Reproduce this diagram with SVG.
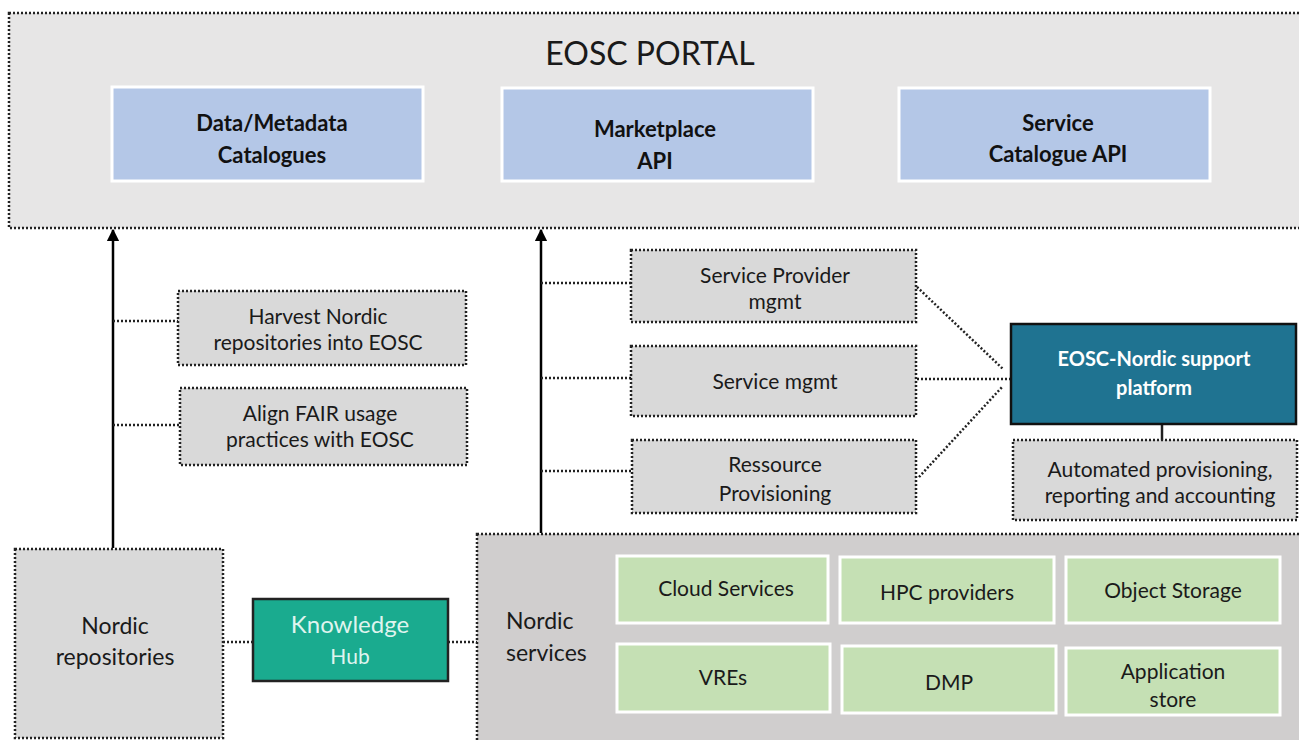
<svg xmlns="http://www.w3.org/2000/svg" width="1299" height="740" viewBox="0 0 1299 740">
<defs>
<marker id="arr" viewBox="0 0 10 10" refX="9" refY="5" markerWidth="5" markerHeight="5" orient="auto-start-reverse"><path d="M0,0 L10,5 L0,10 z" fill="#000"/></marker>
<style>
text{font-family:Lato,"Liberation Sans",sans-serif;fill:#1a1a1a;text-anchor:middle}
.dot{stroke:#222;stroke-width:2.5;stroke-dasharray:2 2;}
.gray{fill:#d9d9d9}
.blue{fill:#b4c7e7;stroke:#fff;stroke-width:3}
.green{fill:#c5e0b4;stroke:#fff;stroke-width:3}
.bt{font-weight:bold;font-size:22px;fill:#111}
.t{font-size:21px}
.big{font-size:23px}
.con{fill:none;stroke:#222;stroke-width:2.5;stroke-dasharray:2 2}
</style>
</defs>
<rect width="1299" height="740" fill="#fff"/>
<g id="eosc-portal">
<rect x="9" y="13" width="1300" height="215" fill="#e7e6e6" class="dot"/>
<text x="650" y="65" style="font-size:32px">EOSC PORTAL</text>
</g>
<g id="data-metadata"><rect x="112" y="87" width="311" height="94" class="blue"/><text class="bt" x="272" y="131">Data/Metadata</text><text class="bt" x="272" y="163">Catalogues</text></g>
<g id="marketplace"><rect x="502" y="88" width="311" height="93" class="blue"/><text class="bt" x="655" y="137">Marketplace</text><text class="bt" x="655" y="169">API</text></g>
<g id="service-catalogue"><rect x="899" y="88" width="311" height="93" class="blue"/><text class="bt" x="1058" y="131">Service</text><text class="bt" x="1058" y="162">Catalogue API</text></g>

<g id="connectors">
<line x1="113" y1="548" x2="113" y2="230" stroke="#000" stroke-width="2.5" marker-end="url(#arr)"/>
<line x1="541" y1="533" x2="541" y2="230" stroke="#000" stroke-width="2.5" marker-end="url(#arr)"/>
<line class="con" x1="113" y1="321" x2="178" y2="321"/>
<line class="con" x1="113" y1="425" x2="180" y2="425"/>
<line class="con" x1="541" y1="283" x2="631" y2="283"/>
<line class="con" x1="541" y1="378" x2="631" y2="378"/>
<line class="con" x1="541" y1="471" x2="632" y2="471"/>
<line class="con" x1="917" y1="287" x2="1003" y2="369"/>
<line class="con" x1="917" y1="379" x2="1010" y2="379"/>
<line class="con" x1="919" y1="477" x2="1003" y2="386"/>
<line x1="1162" y1="424" x2="1162" y2="440" stroke="#222" stroke-width="2.5"/>
<line class="con" x1="223" y1="642" x2="253" y2="642"/>
<line class="con" x1="448" y1="642" x2="477" y2="642"/>
</g>

<g id="harvest"><rect x="178" y="291" width="288" height="74" class="gray dot"/><text class="t" x="318" y="324">Harvest Nordic</text><text class="t" x="318" y="350">repositories into EOSC</text></g>
<g id="align"><rect x="180" y="388" width="287" height="77" class="gray dot"/><text class="t" x="320" y="421">Align FAIR usage</text><text class="t" x="320" y="447">practices with EOSC</text></g>
<g id="sp-mgmt"><rect x="631" y="250" width="285" height="72" class="gray dot"/><text class="t" x="775" y="283">Service Provider</text><text class="t" x="775" y="309">mgmt</text></g>
<g id="service-mgmt"><rect x="631" y="346" width="285" height="70" class="gray dot"/><text class="t" x="775" y="389">Service mgmt</text></g>
<g id="ressource"><rect x="632" y="440" width="284" height="73" class="gray dot"/><text class="t" x="775" y="472">Ressource</text><text class="t" x="775" y="501">Provisioning</text></g>
<g id="support-platform"><rect x="1011" y="324" width="285" height="100" fill="#1f7391" stroke="#111" stroke-width="2.5"/><text class="bt" x="1154" y="366" style="fill:#fff;font-size:20px">EOSC-Nordic support</text><text class="bt" x="1154" y="395" style="fill:#fff;font-size:20px">platform</text></g>
<g id="automated"><rect x="1013" y="440" width="284" height="80" class="gray dot"/><text class="t" x="1160" y="477">Automated provisioning,</text><text class="t" x="1160" y="503">reporting and accounting</text></g>

<g id="nordic-repos"><rect x="15" y="549" width="208" height="189" class="gray dot"/><text class="big" x="115" y="634">Nordic</text><text class="big" x="115" y="665">repositories</text></g>
<g id="knowledge-hub"><rect x="253" y="599" width="195" height="82" fill="#1aab8f" stroke="#222" stroke-width="2.5"/><text x="350" y="633" style="font-size:24px;fill:#dff4ee">Knowledge</text><text x="350" y="664" style="font-size:21px;fill:#dff4ee">Hub</text></g>
<g id="nordic-services"><rect x="477" y="534" width="830" height="215" fill="#d0cece" class="dot"/><text class="big" x="506" y="629" style="text-anchor:start">Nordic</text><text class="big" x="506" y="661" style="text-anchor:start">services</text></g>
<g id="cloud"><rect x="617" y="556" width="211" height="67" class="green"/><text class="t" x="726" y="596">Cloud Services</text></g>
<g id="hpc"><rect x="840" y="557" width="214" height="66" class="green"/><text class="t" x="947" y="600">HPC providers</text></g>
<g id="object-storage"><rect x="1066" y="557" width="214" height="66" class="green"/><text class="t" x="1173" y="598">Object Storage</text></g>
<g id="vres"><rect x="617" y="644" width="213" height="68" class="green"/><text class="t" x="723" y="685">VREs</text></g>
<g id="dmp"><rect x="842" y="646" width="214" height="67" class="green"/><text class="t" x="949" y="690">DMP</text></g>
<g id="app-store"><rect x="1066" y="648" width="214" height="67" class="green"/><text class="t" x="1173" y="679">Application</text><text class="t" x="1173" y="707">store</text></g>
</svg>
